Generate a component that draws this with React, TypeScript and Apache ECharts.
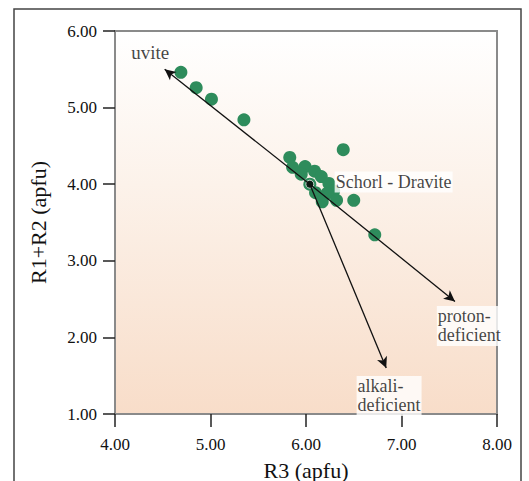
import React, { useEffect, useRef } from "react";
import * as echarts from "echarts";

// R3 (apfu) and R1+R2 (apfu) of the analysed tourmalines
const r3 = [4.69, 4.85, 5.01, 5.35, 6.39, 5.83, 5.86, 5.99, 6.09, 5.95, 6.16, 6.04, 6.24, 6.29, 6.10, 6.22, 6.17, 6.32, 6.50, 6.72];
const r1r2 = [5.46, 5.26, 5.11, 4.84, 4.45, 4.35, 4.22, 4.23, 4.17, 4.13, 4.10, 4.00, 4.01, 3.91, 3.89, 3.88, 3.77, 3.79, 3.79, 3.34];

// Schorl - Dravite reference point
const refX = 6.04;
const refY = 4.0;

// Substitution vectors (arrow tips)
const arrowX = [4.52, 7.56, 6.84];
const arrowY = [5.5, 2.47, 1.6];

// Annotation labels
const labelTexts = ["uvite", "Schorl - Dravite", "proton-\ndeficient", "alkali-\ndeficient"];
const labelX = [4.17, 6.3, 7.37, 6.53];
const labelY = [5.72, 4.03, 2.15, 1.235];
const labelBg = [false, true, true, true];
const labelSize = [19, 18, 18, 18];

const FONT = "Liberation Serif";

export default function App() {
  const ref = useRef<HTMLDivElement>(null);
  useEffect(() => {
    if (!ref.current) return;
    const chart = echarts.init(ref.current, null, { renderer: "svg" });
    const axisColor = "#8a8a8a";
    chart.setOption({
      animation: false,
      backgroundColor: "#ffffff",
      textStyle: { fontFamily: FONT },
      graphic: [
        {
          type: "rect",
          shape: { x: 14, y: 9, width: 507, height: 500 },
          style: { fill: "none", stroke: "#444", lineWidth: 1.5 },
          z: 100,
        },
      ],
      grid: {
        left: 115,
        top: 31,
        right: 32,
        bottom: 67,
        outerBoundsMode: "none",
        containLabel: false,
        show: true,
        borderColor: axisColor,
        borderWidth: 2,
        backgroundColor: {
          type: "linear",
          x: 0,
          y: 0,
          x2: 0,
          y2: 1,
          colorStops: [
            { offset: 0, color: "#ffffff" },
            { offset: 0.4, color: "#fcf2ea" },
            { offset: 1, color: "#f8ddc9" },
          ],
        },
      },
      xAxis: {
        type: "value",
        min: 4,
        max: 8,
        interval: 1,
        name: "R3 (apfu)",
        nameLocation: "middle",
        nameGap: 45,
        nameTextStyle: { fontFamily: FONT, fontSize: 22, color: "#111" },
        axisLine: { show: true, lineStyle: { color: axisColor, width: 2 } },
        axisTick: { show: true, inside: false, length: 13, lineStyle: { color: "#222", width: 1.5 } },
        axisLabel: {
          margin: 22,
          fontFamily: FONT,
          fontSize: 17,
          color: "#111",
          formatter: (v: number) => v.toFixed(2),
        },
        splitLine: { show: false },
      },
      yAxis: {
        type: "value",
        min: 1,
        max: 6,
        interval: 1,
        name: "R1+R2 (apfu)",
        nameLocation: "middle",
        nameRotate: 90,
        nameGap: 66,
        nameTextStyle: { fontFamily: FONT, fontSize: 22, color: "#111" },
        axisLine: { show: true, lineStyle: { color: axisColor, width: 2 } },
        axisTick: { show: true, inside: false, length: 12, lineStyle: { color: "#222", width: 1.5 } },
        axisLabel: {
          margin: 18,
          fontFamily: FONT,
          fontSize: 17,
          color: "#111",
          formatter: (v: number) => v.toFixed(2),
        },
        splitLine: { show: false },
      },
      series: [
        {
          type: "scatter",
          data: r3.map((x, i) => [x, r1r2[i]]),
          symbolSize: 13,
          itemStyle: { color: "#2e8c5c", opacity: 1 },
          z: 2,
        },
        {
          type: "line",
          data: [],
          z: 3,
          markLine: {
            silent: true,
            symbol: ["none", "arrow"],
            symbolSize: [8, 11],
            label: { show: false },
            lineStyle: { color: "#111", width: 1.3, type: "solid" },
            data: arrowX.map((x, i) => [
              { coord: [refX, refY] },
              { coord: [x, arrowY[i]] },
            ]),
          },
        },
        {
          type: "scatter",
          data: [[refX, refY]],
          symbolSize: 8,
          itemStyle: { color: "#000", borderColor: "#e8f0ea", borderWidth: 1 },
          z: 4,
        },
        {
          type: "scatter",
          symbolSize: 0,
          z: 5,
          data: labelTexts.map((t, i) => ({
            value: [labelX[i], labelY[i]],
            label: {
              show: true,
              position: [0, 0],
              align: "left",
              verticalAlign: "middle",
              formatter: t,
              fontFamily: FONT,
              fontSize: labelSize[i],
              lineHeight: 19,
              color: "#111",
              backgroundColor: labelBg[i] ? "#ffffff" : "transparent",
              padding: labelBg[i] ? [1, 1, 1, 1] : 0,
            },
          })),
        },
      ],
    });
    return () => chart.dispose();
  }, []);
  return (
    <div
      ref={ref}
      style={{ position: "fixed", left: 0, top: 0, width: 529, height: 481 }}
    />
  );
}
